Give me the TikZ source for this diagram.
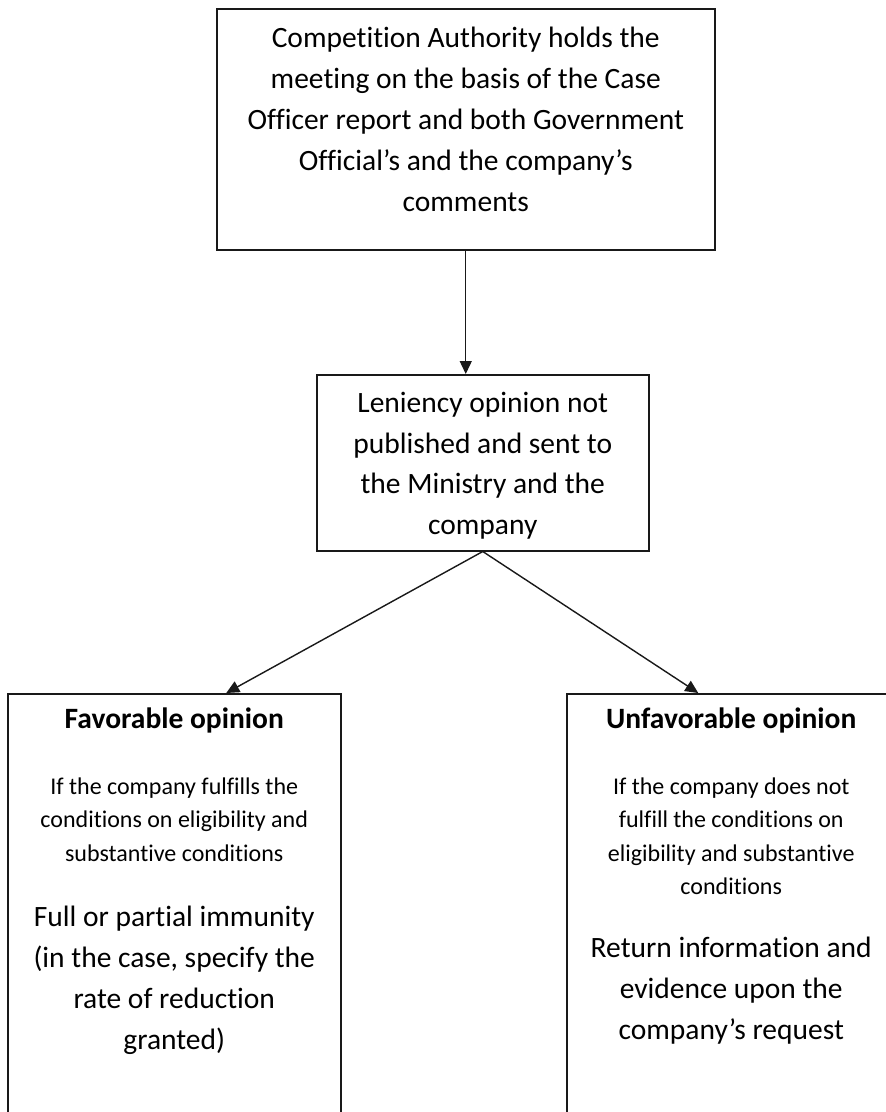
\documentclass[tikz,border=0pt]{standalone}
\usepackage{fontspec}
\setmainfont[Ligatures=NoCommon]{Carlito}
\usetikzlibrary{arrows.meta,calc}
\newcommand\bigtxt{\fontsize{29.5pt}{41pt}\selectfont}
\newcommand\smalltxt{\fontsize{24pt}{33.5pt}\selectfont}
\newcommand\boxpage[3]{\begin{minipage}[t][#1][t]{#2}\centering #3\end{minipage}}
\begin{document}
\begin{tikzpicture}[x=1pt,y=-1pt,
  box/.style={draw=black!90, line width=1.5pt, inner sep=0pt, anchor=north west},
  arr/.style={draw=black!90, line width=1.4pt, -{Triangle[length=13pt,width=12pt]}}]
\useasboundingbox (0,0) rectangle (886,1112);
\clip (0,0) rectangle (886,1112);
\fill[white] (0,0) rectangle (886,1112);
\node[box] (top) at (216,8) {\boxpage{241pt}{498pt}{\bigtxt\rule{0pt}{39pt}Competition Authority holds the\\ meeting on the basis of the Case\\ Officer report and both Government\\ Official’s and the company’s\\ comments\par}};
\node[box] (mid) at (316,374) {\boxpage{176pt}{332pt}{\fontsize{29.5pt}{40.5pt}\selectfont\rule{0pt}{38pt}Leniency opinion not\\ published and sent to\\ the Ministry and the\\ company\par}};
\node[box] (fav) at (7,693) {\boxpage{440pt}{333pt}{\bigtxt\rule{0pt}{35pt}\textbf{Favorable opinion}\par\vspace{32pt}\smalltxt If the company fulfills the\\ conditions on eligibility and\\ substantive conditions\par\vspace{24pt}\bigtxt Full or partial immunity\\ (in the case, specify the\\ rate of reduction\\ granted)\par}};
\node[box] (unf) at (566,693) {\boxpage{440pt}{329pt}{\bigtxt\rule{0pt}{35pt}\textbf{Unfavorable opinion}\par\vspace{32pt}\smalltxt If the company does not\\ fulfill the conditions on\\ eligibility and substantive\\ conditions\par\vspace{22pt}\bigtxt Return information and\\ evidence upon the\\ company’s request\par}};
\draw[arr] (top.south) -- (top.south |- mid.north);
\draw[arr] (mid.south) -- ([xshift=52pt]fav.north);
\draw[arr] (mid.south) -- ([xshift=-33pt]unf.north);
\end{tikzpicture}
\end{document}
